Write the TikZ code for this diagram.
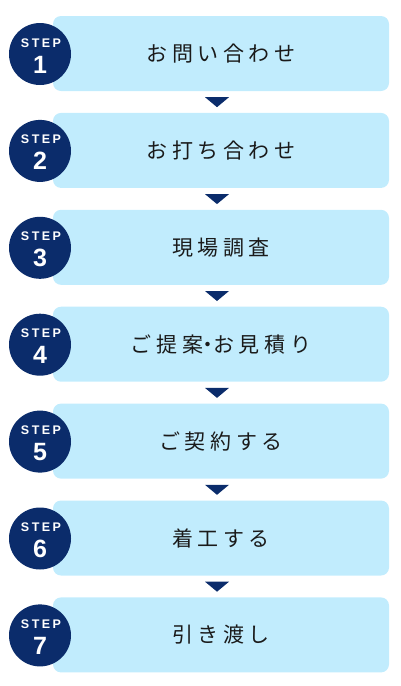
\documentclass[tikz,border=0pt]{standalone}
\usepackage{fontspec}
\setsansfont{Liberation Sans}
\newfontfamily\jpfont[LetterSpace=22]{Noto Sans CJK JP}
\newfontfamily\stepfont[LetterSpace=20]{Liberation Sans Bold}
\usetikzlibrary{positioning}
\definecolor{navy}{HTML}{0B2C6B}
\definecolor{sky}{HTML}{C1ECFD}
\definecolor{ink}{HTML}{1A1A1A}

\begin{document}
\begin{tikzpicture}[x=1pt,y=-1pt,stepbox/.style={rounded corners=8pt,fill=sky,minimum width=336pt,minimum height=75pt,inner sep=0pt,font=\jpfont\fontsize{21}{21}\selectfont,text=ink},badge/.style={circle,fill=navy,minimum size=62pt,inner sep=0pt},badgetext/.style={anchor=base,inner sep=0pt,text=white},pointer/.style={fill=navy}]
 \useasboundingbox (0,0) rectangle (400,686);
 \foreach \i/\txt in {1/お問い合わせ,2/お打ち合わせ,3/現場調査,4/ご提案\makebox[10pt][c]{・}お見積り,5/ご契約する,6/着工する,7/引き渡し}{
  \node[stepbox] (box\i) at (221,{53.5+(\i-1)*96.9}) {\raisebox{-2pt}{\txt}};
  \node[badge] (step\i) at (40,{54+(\i-1)*96.9}) {};
  \node[badgetext,font=\stepfont\fontsize{12.5}{12.5}\selectfont] (label\i) at ([xshift=1pt,yshift=7pt]step\i.center) {STEP};
  \node[badgetext,font=\sffamily\bfseries\fontsize{25}{25}\selectfont] (num\i) at ([yshift=-19pt]step\i.center) {\i};
 }
 % down pointers between the steps
 \foreach \i in {1,...,6}{
  \coordinate (tip\i) at ([xshift=-4pt,yshift=-16pt]box\i.south);
  \fill[pointer] ([xshift=-12pt,yshift=10pt]tip\i) -- ([xshift=12pt,yshift=10pt]tip\i) -- (tip\i) -- cycle;
 }
\end{tikzpicture}
\end{document}
